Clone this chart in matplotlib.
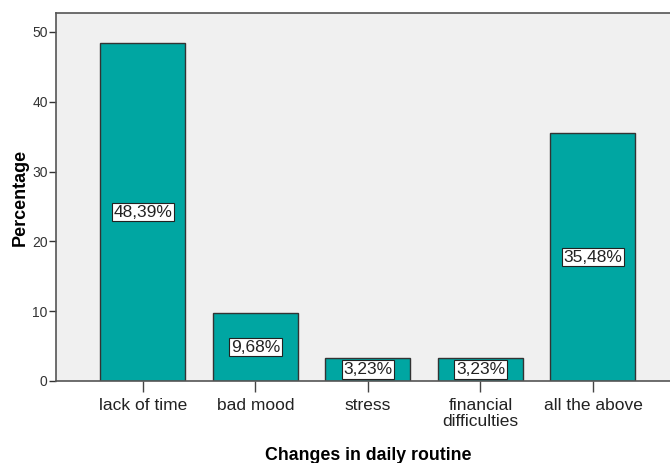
import matplotlib.pyplot as plt

# data
categories = ["lack of time", "bad mood", "stress", "financial\ndifficulties", "all the above"]
percentages = [48.39, 9.68, 3.23, 3.23, 35.48]
labels = ["48,39%", "9,68%", "3,23%", "3,23%", "35,48%"]

plt.rcParams['font.family'] = ['Liberation Sans', 'DejaVu Sans']

W, H = 670, 463
fig = plt.figure(figsize=(W / 100, H / 100), dpi=100)
# axes frame runs off the right side of the image, as in the original
left, right, top, bottom = 56, 700, 13, 381
ax = fig.add_axes([left / W, 1 - bottom / H, (right - left) / W, (bottom - top) / H])
ax.set_facecolor('#f0f0f0')

x = list(range(len(categories)))
ax.bar(x, percentages, width=0.755, color='#00a6a2', edgecolor='#333333', linewidth=1.0, zorder=2)

for xi, v, lab in zip(x, percentages, labels):
    ax.text(xi, v / 2, lab, ha='center', va='center', fontsize=12.5, color='#222222', zorder=3,
            bbox=dict(boxstyle='square,pad=0.1', facecolor='white', edgecolor='#222222', linewidth=0.8))

ax.set_xlim(-0.773, -0.773 + (right - left) / 112.5)
ax.set_ylim(0, 52.7)
ax.set_yticks([0, 10, 20, 30, 40, 50])
ax.set_xticks(x)
ax.set_xticklabels(categories, fontsize=12.5, color='#222222', linespacing=1.1)
ax.tick_params(axis='y', labelsize=10, colors='#333333', length=5, width=1, pad=1)
ax.tick_params(axis='x', length=8, width=1, colors='#444444', labelcolor='#222222', pad=4)

for s in ax.spines.values():
    s.set_color('#555555')
    s.set_linewidth(1.2)

ax.set_ylabel("Percentage", fontsize=13, fontweight='bold')
ax.yaxis.set_label_coords(-(56 - 29) / (right - left), 0.5)
ax.set_xlabel("Changes in daily routine", fontsize=12.8, fontweight='bold')
ax.xaxis.set_label_coords((368 - left) / (right - left), -0.178)

fig.savefig("out.png", dpi=100)
